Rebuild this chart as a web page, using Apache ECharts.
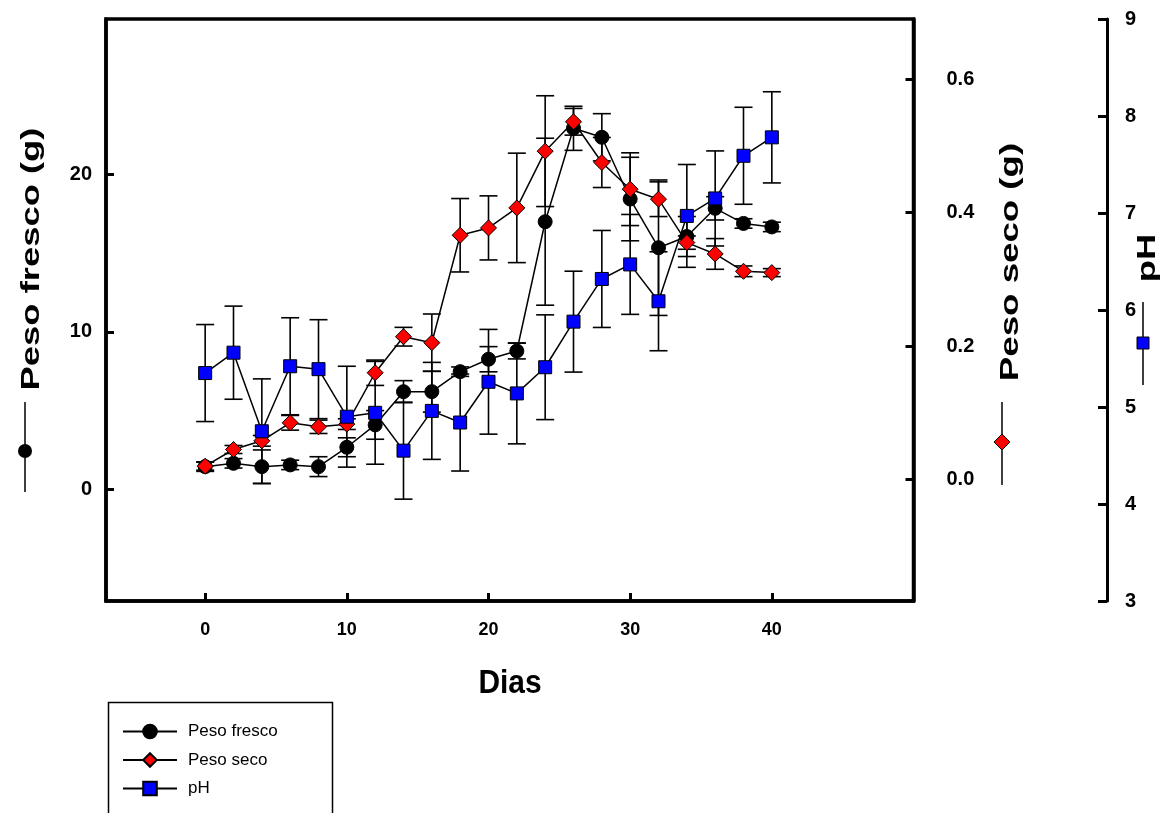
<!DOCTYPE html>
<html>
<head>
<meta charset="utf-8">
<script src="https://cdn.jsdelivr.net/npm/echarts@6/dist/echarts.min.js"></script>
<style>
  html, body { margin: 0; padding: 0; background: #fff; }
  #chart { width: 1166px; height: 813px; }
</style>
</head>
<body>
<div id="chart"></div>
<script>
// dias de amostragem
var dias = [0, 2, 4, 6, 8, 10, 12, 14, 16, 18, 20, 22, 24, 26, 28, 30, 32, 34, 36, 38, 40];

// peso fresco (g) e desvio
var pesoFresco    = [1.45, 1.66, 1.45, 1.56, 1.45, 2.68, 4.10, 6.21, 6.21, 7.48, 8.27, 8.79, 17.0, 22.93, 22.36, 18.44, 15.35, 16.06, 17.85, 16.89, 16.67];
var pesoFrescoErr = [0.3, 0.3, 1.06, 0.3, 0.63, 0.6, 0.91, 0.7, 1.3, 0.3, 0.8, 0.5, 5.3, 1.4, 1.5, 2.65, 4.3, 1.27, 0.74, 0.3, 0.3];

// peso seco (g) e desvio
var pesoSeco    = [0.020, 0.045, 0.058, 0.085, 0.079, 0.083, 0.160, 0.214, 0.205, 0.366, 0.377, 0.407, 0.492, 0.536, 0.475, 0.435, 0.420, 0.355, 0.338, 0.312, 0.310];
var pesoSecoErr = [0.006, 0.006, 0.008, 0.011, 0.010, 0.008, 0.019, 0.014, 0.043, 0.055, 0.048, 0.082, 0.083, 0.02, 0.0375, 0.0545, 0.026, 0.01, 0.023, 0.008, 0.006];

// pH e desvio
var ph    = [5.35, 5.56, 4.75, 5.42, 5.39, 4.90, 4.94, 4.55, 4.96, 4.84, 5.26, 5.14, 5.41, 5.88, 6.32, 6.47, 6.09, 6.97, 7.15, 7.59, 7.78];
var phErr = [0.50, 0.48, 0.54, 0.50, 0.51, 0.52, 0.53, 0.50, 0.50, 0.50, 0.54, 0.52, 0.54, 0.52, 0.50, 0.515, 0.51, 0.53, 0.49, 0.50, 0.47];

var xTicks = [0, 10, 20, 30, 40];
var frescoTicks = [0, 10, 20];
var secoTicks = [0, 0.2, 0.4, 0.6];
var phTicks = [3, 4, 5, 6, 7, 8, 9];

function pares(vals) {
  return dias.map(function (d, i) { return [d, vals[i]]; });
}
function barras(vals, errs) {
  return dias.map(function (d, i) { return [d, vals[i] - errs[i], vals[i] + errs[i]]; });
}

function renderErro(params, api) {
  var x = api.value(0);
  var lo = api.coord([x, api.value(1)]);
  var hi = api.coord([x, api.value(2)]);
  var w = 9;
  var st = { stroke: '#000', lineWidth: 1.6 };
  return {
    type: 'group',
    children: [
      { type: 'line', shape: { x1: lo[0], y1: lo[1], x2: hi[0], y2: hi[1] }, style: st },
      { type: 'line', shape: { x1: lo[0] - w, y1: lo[1], x2: lo[0] + w, y2: lo[1] }, style: st },
      { type: 'line', shape: { x1: hi[0] - w, y1: hi[1], x2: hi[0] + w, y2: hi[1] }, style: st }
    ]
  };
}

var chart = echarts.init(document.getElementById('chart'));

var tickFont = { fontFamily: 'Liberation Sans, Arial, sans-serif', fontWeight: 'bold', fontSize: 20, color: '#000' };
var titleFont = 'bold 26px Liberation Sans, Arial, sans-serif';

var option = {
  backgroundColor: '#fff',
  animation: false,
  grid: {
    left: 106, right: 252.5, top: 19, bottom: 212,
    show: true, borderColor: '#000', borderWidth: 3.5, backgroundColor: 'transparent'
  },
  legend: {
    orient: 'vertical',
    left: 117, top: 718,
    itemWidth: 54, itemHeight: 17, itemGap: 11.5,
    data: ['Peso fresco', 'Peso seco', 'pH'],
    textStyle: { fontFamily: 'Liberation Sans, Arial, sans-serif', fontSize: 17, color: '#000',
      padding: [0, 0, 0, 6] }
  },
  xAxis: {
    type: 'value', min: -7, max: 50,
    splitLine: { show: false },
    axisLine: { show: true, onZero: false, lineStyle: { color: '#000', width: 3.5 } },
    axisTick: { inside: true, length: 8, customValues: xTicks, lineStyle: { color: '#000', width: 3 } },
    axisLabel: Object.assign({ customValues: xTicks, margin: 20 }, tickFont,
      { fontFamily: 'Liberation Sans Narrow, Arial Narrow, Liberation Sans, sans-serif', fontSize: 18 })
  },
  yAxis: [
    {
      type: 'value', position: 'left', min: -7.08, max: 29.87,
      splitLine: { show: false },
      axisLine: { show: true, onZero: false, lineStyle: { color: '#000', width: 3.5 } },
      axisTick: { inside: true, length: 8, customValues: frescoTicks, lineStyle: { color: '#000', width: 3 } },
      axisLabel: Object.assign({ customValues: frescoTicks, margin: 14 }, tickFont)
    },
    {
      type: 'value', position: 'right', min: -0.182, max: 0.69,
      splitLine: { show: false },
      axisLine: { show: true, onZero: false, lineStyle: { color: '#000', width: 3.5 } },
      axisTick: { inside: true, length: 8, customValues: secoTicks, lineStyle: { color: '#000', width: 3 } },
      axisLabel: Object.assign({ customValues: secoTicks, margin: 33,
        formatter: function (v) { return v.toFixed(1); } }, tickFont)
    },
    {
      type: 'value', position: 'right', offset: 193.5, min: 3, max: 9,
      splitLine: { show: false },
      axisLine: { show: true, onZero: false, lineStyle: { color: '#000', width: 3 } },
      axisTick: { inside: true, length: 9, customValues: phTicks, lineStyle: { color: '#000', width: 3 } },
      axisLabel: Object.assign({ customValues: phTicks, margin: 18 }, tickFont)
    }
  ],
  series: [
    { type: 'custom', name: 'errFresco', yAxisIndex: 0, z: 1, renderItem: renderErro,
      encode: { x: 0, y: [1, 2] }, data: barras(pesoFresco, pesoFrescoErr) },
    { type: 'custom', name: 'errSeco', yAxisIndex: 1, z: 1, renderItem: renderErro,
      encode: { x: 0, y: [1, 2] }, data: barras(pesoSeco, pesoSecoErr) },
    { type: 'custom', name: 'errPh', yAxisIndex: 2, z: 1, renderItem: renderErro,
      encode: { x: 0, y: [1, 2] }, data: barras(ph, phErr) },
    {
      name: 'Peso fresco', type: 'line', yAxisIndex: 0, z: 3,
      symbol: 'circle', symbolSize: 14, showAllSymbol: true,
      lineStyle: { color: '#000', width: 1.5 },
      itemStyle: { color: '#000', borderColor: '#000', borderWidth: 1 },
      data: pares(pesoFresco)
    },
    {
      name: 'Peso seco', type: 'line', yAxisIndex: 1, z: 4,
      symbol: 'diamond', symbolSize: 16, showAllSymbol: true,
      lineStyle: { color: '#000', width: 1.5 },
      itemStyle: { color: '#ff0000', borderColor: '#000', borderWidth: 1 },
      data: pares(pesoSeco)
    },
    {
      name: 'pH', type: 'line', yAxisIndex: 2, z: 5,
      symbol: 'rect', symbolSize: 13, showAllSymbol: true,
      lineStyle: { color: '#000', width: 1.5 },
      itemStyle: { color: '#0000ff', borderColor: '#000', borderWidth: 1 },
      data: pares(ph)
    }
  ],
  graphic: [
    // caixa da legenda
    { type: 'rect', left: 106, top: 700, shape: { width: 224, height: 140 },
      style: { fill: 'none', stroke: '#000', lineWidth: 1.5 } },
    // titulos dos eixos
    { type: 'text', x: 32, y: 259, rotation: Math.PI / 2, scaleX: 1.4,
      style: { text: 'Peso fresco (g)', font: titleFont,
        fill: '#000', align: 'center', verticalAlign: 'middle' } },
    { type: 'line', shape: { x1: 25, y1: 402, x2: 25, y2: 492 }, style: { stroke: '#000', lineWidth: 1.5 } },
    { type: 'circle', shape: { cx: 25, cy: 451, r: 7 }, style: { fill: '#000' } },

    { type: 'text', x: 1011, y: 262, rotation: Math.PI / 2, scaleX: 1.41,
      style: { text: 'Peso seco (g)', font: titleFont,
        fill: '#000', align: 'center', verticalAlign: 'middle' } },
    { type: 'line', shape: { x1: 1002, y1: 402, x2: 1002, y2: 485 }, style: { stroke: '#000', lineWidth: 1.5 } },
    { type: 'polygon', shape: { points: [[1002, 434], [1010, 442], [1002, 450], [994, 442]] },
      style: { fill: '#ff0000', stroke: '#000', lineWidth: 1 } },

    { type: 'text', x: 1148, y: 258, rotation: Math.PI / 2, scaleX: 1.4,
      style: { text: 'pH', font: titleFont,
        fill: '#000', align: 'center', verticalAlign: 'middle' } },
    { type: 'line', shape: { x1: 1143, y1: 302, x2: 1143, y2: 385 }, style: { stroke: '#000', lineWidth: 1.5 } },
    { type: 'rect', shape: { x: 1137, y: 337, width: 12, height: 12 },
      style: { fill: '#0000ff', stroke: '#000', lineWidth: 1 } },

    { type: 'text', x: 510, y: 684, scaleX: 0.88,
      style: { text: 'Dias', font: 'bold 34px Liberation Sans, Arial, sans-serif',
        fill: '#000', align: 'center', verticalAlign: 'middle' } }
  ]
};

chart.setOption(option);
</script>
</body>
</html>
